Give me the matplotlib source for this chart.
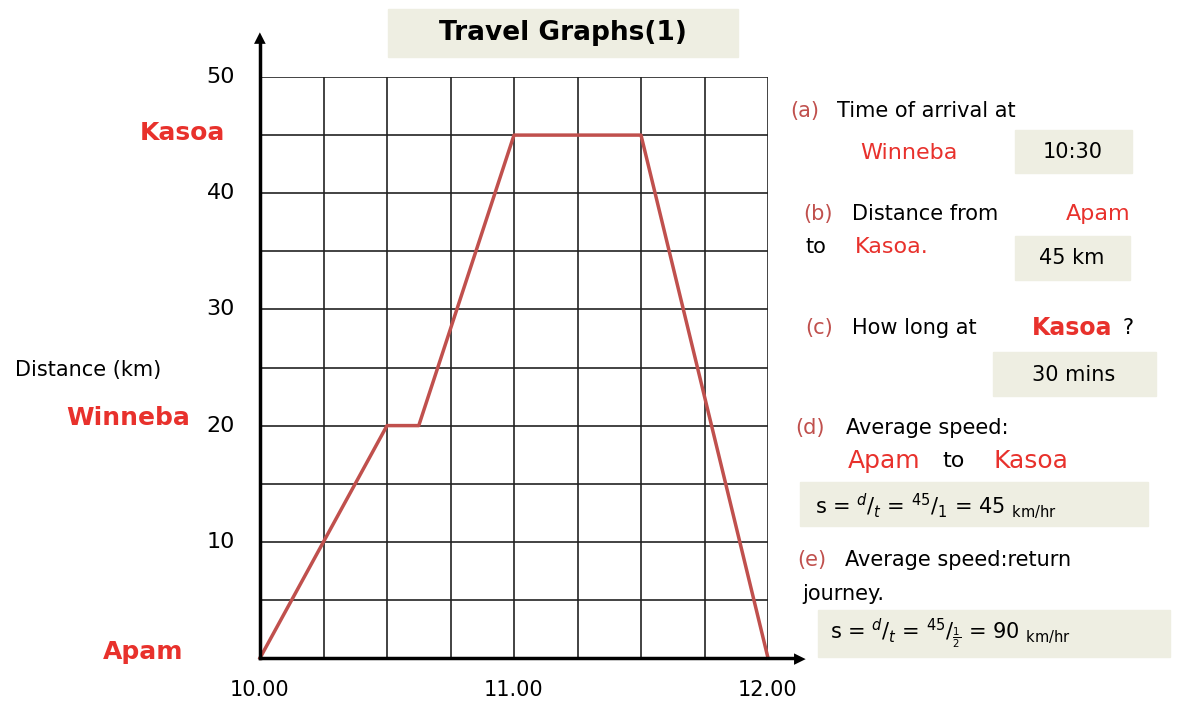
import matplotlib.pyplot as plt
from matplotlib.patches import Rectangle

times = [10.0, 10.5, 10.625, 11.0, 11.5, 12.0]
distances = [0, 20, 20, 45, 45, 0]
xticks = [10.0, 11.0, 12.0]
xticklabels = ["10.00", "11.00", "12.00"]
yticks = [10, 20, 30, 40, 50]

W, H = 1184, 715
fig = plt.figure(figsize=(W/100, H/100), dpi=100)
ax = fig.add_axes([260/W, 1-658/H, 508/W, 581/H])
ax.set_xlim(10, 12)
ax.set_ylim(0, 50)
for x in [10 + i*0.25 for i in range(1, 9)]:
    ax.axvline(x, color="#222", lw=1.2)
for y in range(5, 51, 5):
    ax.axhline(y, color="#222", lw=1.2)
for s in ax.spines.values():
    s.set_visible(False)
ax.set_xticks([]); ax.set_yticks([])
ax.plot(times, distances, color="#c0504d", lw=2.5, clip_on=False, zorder=5)

def P(x, y):
    return (x/W, 1-y/H)

# axes arrows
fig.add_artist(plt.Line2D([260/W, 260/W], [1-658/H, 1-40/H], color="black", lw=2.5))
fig.add_artist(plt.Line2D([260/W, 795/W], [1-658/H, 1-658/H], color="black", lw=2.5))
fig.text(*P(260, 38), "▲", ha="center", va="center", fontsize=11)
fig.text(*P(800, 659), "▶", ha="center", va="center", fontsize=11)

def T(x, y, s, c="black", fs=16, ha="left", bold=False, **kw):
    fig.text(*P(x, y), s, color=c, fontsize=fs, ha=ha, va="center",
             fontweight="bold" if bold else "normal", **kw)

for t, lab in zip(xticks, xticklabels):
    xp = 260 + (t-10)*254
    T(xp, 690, lab, fs=15, ha="center")
for v in yticks:
    T(235, 658 - v*11.62, str(v), fs=16, ha="right")

T(15, 370, "Distance (km)", fs=15)
T(225, 133, "Kasoa", c="#e8312c", fs=18, ha="right", bold=True)
T(190, 418, "Winneba", c="#e8312c", fs=18, ha="right", bold=True)
T(183, 652, "Apam", c="#e8312c", fs=18, ha="right", bold=True)

fig.add_artist(Rectangle(P(388, 57), 350/W, 48/H, color="#eeeee2"))
T(563, 33, "Travel Graphs(1)", fs=19, ha="center", bold=True)

red = "#e8312c"; pale = "#c0504d"
def box(x0, y0, x1, y1):
    fig.add_artist(Rectangle(P(x0, y1), (x1-x0)/W, (y1-y0)/H, color="#eeeee2"))

T(790, 111, "(a)", c=pale, fs=15); T(837, 111, "Time of arrival at", fs=15)
T(860, 153, "Winneba", c=red, fs=16)
box(1015, 130, 1132, 173); T(1073, 152, "10:30", fs=15, ha="center")
T(803, 214, "(b)", c=pale, fs=15); T(852, 214, "Distance from", fs=15); T(1066, 214, "Apam", c=red, fs=16)
T(806, 247, "to", fs=15); T(855, 247, "Kasoa.", c=red, fs=16)
box(1015, 236, 1130, 280); T(1072, 258, "45 km", fs=15, ha="center")
T(805, 328, "(c)", c=pale, fs=15); T(852, 328, "How long at", fs=15)
T(1032, 328, "Kasoa", c=red, fs=17, bold=True); T(1122, 328, "?", fs=15)
box(993, 352, 1156, 396); T(1074, 375, "30 mins", fs=15, ha="center")
T(795, 428, "(d)", c=pale, fs=15); T(846, 428, "Average speed:", fs=15)
T(848, 461, "Apam", c=red, fs=18); T(942, 461, "to", fs=16); T(993, 461, "Kasoa", c=red, fs=18)
box(800, 482, 1148, 526)
T(815, 506, r"s = $^{d}/_{t}$ = $^{45}/_{1}$ = 45 $_{\rm km/hr}$", fs=15)
T(797, 560, "(e)", c=pale, fs=15); T(845, 560, "Average speed:return", fs=15)
T(802, 594, "journey.", fs=15)
box(818, 610, 1170, 657)
T(830, 634, r"s = $^{d}/_{t}$ = $^{45}/_{\frac{1}{2}}$ = 90 $_{\rm km/hr}$", fs=15)

fig.savefig("out.png", dpi=100)
